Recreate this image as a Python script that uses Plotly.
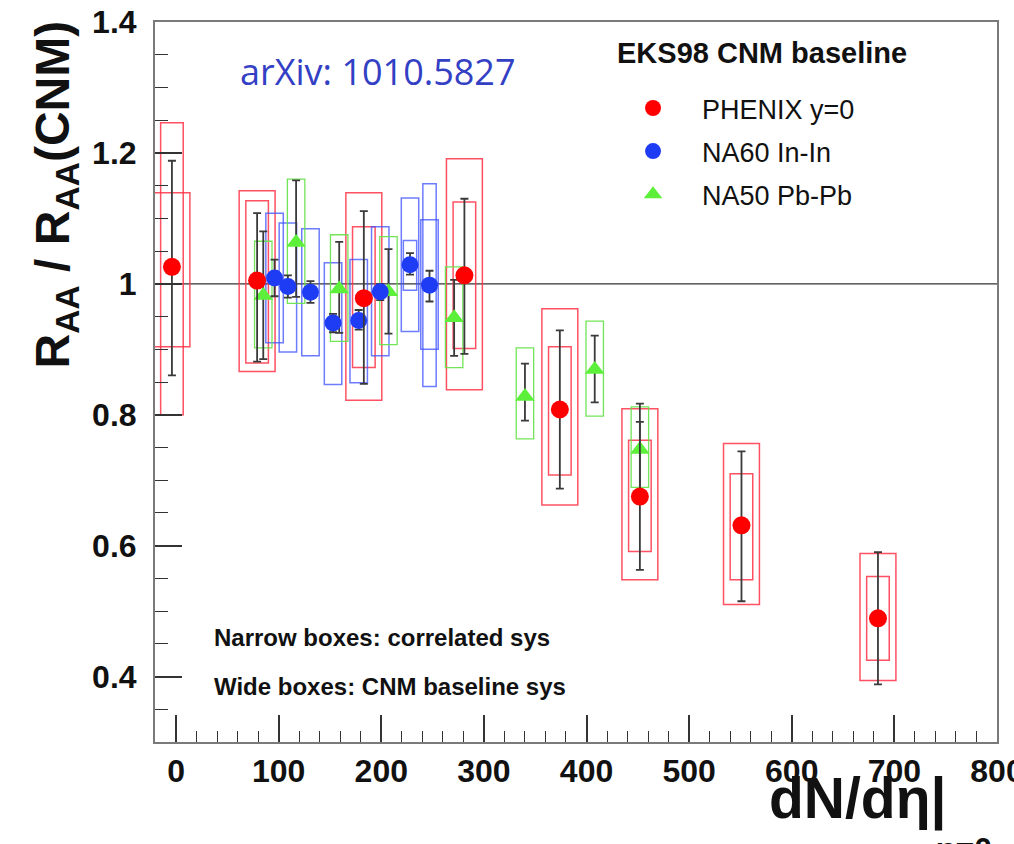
import plotly.graph_objects as go

# ---- data -------------------------------------------------------------
# PHENIX y=0 (Au+Au)
phenix_x = [-4, 79, 183, 281, 374, 452, 551, 684]
phenix_y = [1.026, 1.005, 0.978, 1.013, 0.808, 0.675, 0.631, 0.489]
phenix_err_hi = [1.188, 1.108, 1.111, 1.130, 0.929, 0.789, 0.744, 0.590]
phenix_err_lo = [0.860, 0.881, 0.847, 0.893, 0.687, 0.563, 0.515, 0.388]
phenix_corr_hi = [1.246, 1.127, 1.087, 1.125, 0.904, 0.761, 0.710, 0.553]
phenix_corr_lo = [0.800, 0.879, 0.872, 0.901, 0.708, 0.591, 0.548, 0.425]
phenix_cnm_hi = [1.139, 1.142, 1.139, 1.191, 0.962, 0.809, 0.756, 0.588]
phenix_cnm_lo = [0.904, 0.866, 0.822, 0.838, 0.662, 0.548, 0.510, 0.394]

# NA60 In-In
na60_x = [96, 109, 131, 153, 178, 199, 228, 247]
na60_y = [1.009, 0.996, 0.987, 0.940, 0.944, 0.988, 1.029, 0.998]
na60_err_hi = [1.037, 1.013, 1.004, 0.954, 0.960, 1.000, 1.047, 1.020]
na60_err_lo = [0.981, 0.979, 0.971, 0.926, 0.930, 0.975, 1.014, 0.973]
na60_box_hi = [1.108, 1.093, 1.084, 1.032, 1.037, 1.087, 1.131, 1.098]
na60_box_lo = [0.910, 0.896, 0.890, 0.846, 0.849, 0.890, 0.927, 0.900]
na60_corr_hi = [None, None, None, None, None, None, 1.066, 1.153]
na60_corr_lo = [None, None, None, None, None, None, 0.990, 0.843]

# NA50 Pb-Pb
na50_x = [85, 117, 159, 207, 271, 340, 408, 452]
na50_y = [0.982, 1.063, 0.992, 0.988, 0.948, 0.828, 0.869, 0.747]
na50_err_hi = [1.080, 1.158, 1.064, 1.053, 1.006, 0.878, 0.921, 0.817]
na50_err_lo = [0.885, 0.980, 0.925, 0.924, 0.890, 0.791, 0.819, 0.680]
na50_box_hi = [1.065, 1.160, 1.075, 1.072, 1.026, 0.902, 0.943, 0.812]
na50_box_lo = [0.902, 0.970, 0.912, 0.907, 0.872, 0.763, 0.798, 0.689]

x_ticks = [0, 100, 200, 300, 400, 500, 600, 700, 800]
y_ticks = [0.4, 0.6, 0.8, 1.0, 1.2, 1.4]
y_tick_text = ["0.4", "0.6", "0.8", "1", "1.2", "1.4"]

# ---- styling ------------------------------------------------------------
RED = "#ff0000"
BLUE = "#1f3cf5"
GREEN = "#5cf03a"
RED_BOX = "rgba(255,50,70,0.85)"
BLUE_BOX = "rgba(60,80,255,0.75)"
GREEN_BOX = "rgba(100,225,70,0.9)"
ERR = "#3a3a3a"
FONT = "Liberation Sans, Arial, sans-serif"
INK = "#111111"

fig = go.Figure()

shapes = []


def add_boxes(xs, his, los, half, color, width=1.5):
    for x, hi, lo in zip(xs, his, los):
        if hi is None or lo is None:
            continue
        shapes.append(dict(type="rect", xref="x", yref="y",
                           x0=x - half, x1=x + half, y0=lo, y1=hi,
                           line=dict(color=color, width=width),
                           fillcolor="rgba(0,0,0,0)", layer="below"))


add_boxes(phenix_x, phenix_cnm_hi, phenix_cnm_lo, 17.5, RED_BOX)
add_boxes(phenix_x, phenix_corr_hi, phenix_corr_lo, 11, RED_BOX)
add_boxes(na60_x, na60_box_hi, na60_box_lo, 8.5, BLUE_BOX)
add_boxes(na60_x, na60_corr_hi, na60_corr_lo, 6.5, BLUE_BOX)
add_boxes(na50_x, na50_box_hi, na50_box_lo, 8.5, GREEN_BOX, 1.3)

# unity reference line across the frame
shapes.append(dict(type="line", xref="paper", yref="y", x0=0, x1=1, y0=1, y1=1,
                   line=dict(color="#333333", width=1.3), layer="below"))


def err(ys, his, los):
    up = [h - y for h, y in zip(his, ys)]
    dn = [y - l for l, y in zip(los, ys)]
    return dict(type="data", array=up, arrayminus=dn, color=ERR,
                thickness=1.8, width=4, visible=True)


fig.add_trace(go.Scatter(
    x=na50_x, y=na50_y, mode="markers", name="NA50 Pb-Pb", legendrank=3,
    legendgroup="c",
    marker=dict(symbol="triangle-up", size=17, color=GREEN),
    error_y=err(na50_y, na50_err_hi, na50_err_lo)))
fig.add_trace(go.Scatter(
    x=na60_x, y=na60_y, mode="markers", name="NA60 In-In", legendrank=2,
    legendgroup="b",
    marker=dict(symbol="circle", size=17, color=BLUE),
    error_y=err(na60_y, na60_err_hi, na60_err_lo)))
fig.add_trace(go.Scatter(
    x=phenix_x, y=phenix_y, mode="markers", name="PHENIX y=0", legendrank=1,
    legendgroup="a",
    marker=dict(symbol="circle", size=18, color=RED),
    error_y=err(phenix_y, phenix_err_hi, phenix_err_lo)))

annotations = [
    dict(text="arXiv: 1010.5827", x=0.0986, y=0.931, xref="paper", yref="paper",
         xanchor="left", yanchor="middle", showarrow=False,
         font=dict(family="Open Sans, sans-serif", size=36, color="#3340c4")),
    dict(text="EKS98 CNM baseline", x=0.5463, y=0.957, xref="paper", yref="paper",
         xanchor="left", yanchor="middle", showarrow=False,
         font=dict(family=FONT, size=29, color=INK, weight="bold")),
    dict(text="Narrow boxes: correlated sys", x=0.0677, y=0.1458,
         xref="paper", yref="paper", xanchor="left", yanchor="middle",
         showarrow=False,
         font=dict(family=FONT, size=24, color=INK, weight="bold")),
    dict(text="Wide boxes: CNM baseline sys", x=0.0677, y=0.0764,
         xref="paper", yref="paper", xanchor="left", yanchor="middle",
         showarrow=False,
         font=dict(family=FONT, size=24, color=INK, weight="bold")),
    dict(text="R<sub>AA</sub> / R<sub>AA</sub>(CNM)", textangle=-90,
         x=-0.118, y=0.76, xref="paper", yref="paper",
         xanchor="center", yanchor="middle", showarrow=False,
         font=dict(family=FONT, size=48, color=INK, weight="bold")),
    dict(text="dN/dη|", x=0.727, y=-0.079,
         xref="paper", yref="paper", xanchor="left", yanchor="middle",
         showarrow=False,
         font=dict(family=FONT, size=57, color=INK, weight="bold")),
    dict(text="η=0", x=0.925, y=-0.121,
         xref="paper", yref="paper", xanchor="left", yanchor="top",
         showarrow=False,
         font=dict(family=FONT, size=32, color=INK, weight="bold")),
]

axis_common = dict(
    showline=True, linecolor="#7a7a7a", linewidth=2, mirror=True,
    ticks="inside", ticklen=27, tickwidth=1.5, tickcolor="#333333",
    showgrid=False, zeroline=False, ticklabeloverflow="allow",
    automargin=False,
    tickfont=dict(family=FONT, size=32, color=INK, weight="bold"),
)

fig.update_layout(
    width=1014, height=844,
    margin=dict(l=155, r=17, t=22, b=102, autoexpand=False),
    paper_bgcolor="white", plot_bgcolor="white",
    shapes=shapes, annotations=annotations,
    showlegend=True,
    legend=dict(
        x=0.5333, y=0.914, xanchor="left", yanchor="top",
        bgcolor="rgba(0,0,0,0)", borderwidth=0,
        font=dict(family=FONT, size=27, color=INK),
        tracegroupgap=5, itemwidth=88, traceorder="grouped",
    ),
    xaxis=dict(range=[-20.5, 800], tickvals=x_ticks,
               ticklabelstandoff=0,
               minor=dict(dtick=20, ticks="inside", ticklen=11,
                          tickcolor="#333333", tickwidth=1.2),
               **axis_common),
    yaxis=dict(range=[0.3, 1.4], tickvals=y_ticks, ticktext=y_tick_text,
               ticklabelstandoff=10,
               minor=dict(dtick=0.05, ticks="inside", ticklen=13,
                          tickcolor="#333333", tickwidth=1.2),
               **axis_common),
)

fig.write_html("out.html")
